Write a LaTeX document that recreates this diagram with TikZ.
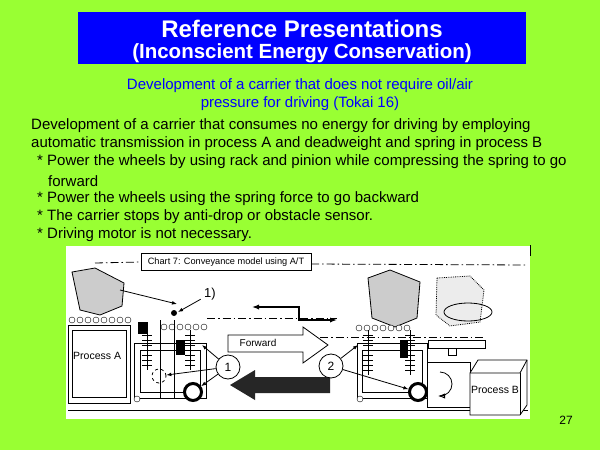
\documentclass[tikz,border=0pt]{standalone}
\usepackage{fontspec}
\setmainfont{Liberation Sans}
\usetikzlibrary{arrows.meta, shapes.geometric}
\definecolor{lime}{RGB}{153,255,51}
\definecolor{titleblue}{RGB}{0,0,255}
\tikzstyle{bodytext} = [anchor=west, inner sep=0pt, font=\fontsize{15}{17}\selectfont]
\tikzstyle{roller} = [circle, draw=black, fill=white, inner sep=0pt, minimum size=6pt]
\tikzstyle{wheel} = [circle, draw=black, line width=3pt, fill=white, inner sep=0pt, minimum size=17pt]
\tikzstyle{marker} = [circle, draw=black, thick, fill=white, inner sep=0pt, minimum size=24pt, font=\fontsize{12}{13}\selectfont]
\tikzstyle{pointer} = [thick, -{Latex[length=5pt]}]
\tikzstyle{dashdot} = [thick, dash pattern=on 8pt off 3pt on 1.5pt off 3pt]
\tikzstyle{load} = [draw=black, fill=gray!40, thick]
\begin{document}
\begin{tikzpicture}[x=1pt, y=-1pt]
  \fill[lime] (0,0) rectangle (600,450);
  \useasboundingbox (0,0) rectangle (600,450);

  % Title
  \node (title) [fill=titleblue, minimum width=448pt, minimum height=52pt] at (302,38) {};
  \node (title1) [inner sep=0pt, text=white, font=\bfseries\fontsize{24}{26}\selectfont] at (302,29) {Reference Presentations};
  \node (title2) [inner sep=0pt, text=white, font=\bfseries\fontsize{20.5}{22}\selectfont] at (302,53) {(Inconscient Energy Conservation)};

  % Subtitle
  \node (sub) [align=center, text=titleblue, font=\fontsize{15}{18}\selectfont] at (300,95)
    {Development of a carrier that does not require oil/air\\pressure for driving (Tokai 16)};

  % Body
  \node (l1) [bodytext] at (31,126) {Development of a carrier that consumes no energy for driving by employing};
  \node (l2) [bodytext] at (31,144) {automatic transmission in process A and deadweight and spring in process B};
  \node (l3) [bodytext] at (37,162) {* Power the wheels by using rack and pinion while compressing the spring to go};
  \node (l4) [bodytext] at (48,181) {forward};
  \node (l5) [bodytext] at (37,199) {* Power the wheels using the spring force to go backward};
  \node (l6) [bodytext] at (37,217) {* The carrier stops by anti-drop or obstacle sensor.};
  \node (l7) [bodytext] at (37,235) {* Driving motor is not necessary.};

  % Picture area
  \fill[white] (66,246) rectangle (530,419);
  \draw[thick] (530,245) -- (530,256);
  \draw[thick] (68,410) -- (528,410);

  % Caption and dash-dot lines
  \node (chart) [draw=black, fill=white, minimum width=170pt, minimum height=17pt, font=\fontsize{9.2}{10}\selectfont] at (226,262) {Chart 7: Conveyance model using A/T};
  \draw[dashdot] (95,263) -- (chart.west);
  \draw[dashdot] (chart.east) ++(0,2) -- (527,265);
  \draw[dashdot] (207,318) -- (337,318);
  \draw[dashdot] (320,337) -- (483,337);

  % Process A table
  \draw[thick] (68,325) rectangle (130,403);
  \draw (72,330) rectangle (126,397);
  \foreach \x in {72,80,...,128} \node[roller] at (\x,320) {};
  \node (procA) [anchor=west, inner sep=0pt, font=\fontsize{10.5}{12}\selectfont] at (73,356) {Process A};

  % Loads
  \draw[load] (72,272) -- (95,268) -- (124,283) -- (122,306) -- (100,315) -- (80,310) -- cycle;
  \draw[load] (368,278) -- (390,270) -- (420,282) -- (417,318) -- (395,327) -- (372,318) -- cycle;
  \draw[load, fill=gray!15, densely dotted] (437,278) -- (470,276) -- (484,290) -- (480,322) -- (450,326) -- (436,315) -- cycle;
  \draw[thick] (468,312) ellipse (24pt and 9pt);

  % Left carrier
  \draw[thick] (134,343) rectangle (206,398);
  \draw (140,350) rectangle (200,392);
  \foreach \x in {164,172,...,205} \node[roller] at (\x,327) {};
  \draw[thick] (160,320) -- (160,398);
  \draw[thick] (174,320) -- (174,398);
  \foreach \x in {147,190} {
    \draw[thick] (\x,330) -- (\x,370);
    \foreach \y in {335,340,...,365} \draw (\x-5,\y) -- (\x+5,\y);
  }
  \fill (138,322) rectangle (148,334);
  \fill (174,313) circle (3pt);
  \fill (176,340) rectangle (185,355);
  \node (gear) [circle, draw=black, thick, dashed, inner sep=0pt, minimum size=14pt] at (159,376) {};
  \node (lwheel) [wheel] at (193,392) {};
  \node[roller] at (137,399) {};
  \node (m1) [marker] at (228,367) {1};
  \node (tag1) [font=\fontsize{13}{14}\selectfont] at (210,294) {1)};
  \draw[pointer] (tag1) -- (178,312);
  \draw[pointer] (120,290) -- (177,304);
  \draw[pointer] (m1) -- (202,345);
  \draw[pointer] (m1) -- (gear);
  \draw[pointer] (m1) -- (lwheel);

  % Arrows
  \draw[thick, fill=white] (228,335) -- (303,335) -- (303,327) -- (328,345) -- (303,363) -- (303,352) -- (228,352) -- cycle;
  \node (fwd) [font=\fontsize{10}{11}\selectfont] at (258,343) {Forward};
  \fill[black!85] (230,385) -- (255,370) -- (255,377) -- (330,377) -- (330,393) -- (255,393) -- (255,400) -- cycle;
  \draw[line width=1.6pt, {Latex[length=7pt]}-{Latex[length=7pt]}] (252,307) -- (299,307) -- (299,320) -- (337,320);

  % Right carrier
  \draw[thick] (357,343) rectangle (427,398);
  \draw (362,350) rectangle (422,392);
  \foreach \x in {359,367,...,410} \node[roller] at (\x,328) {};
  \foreach \x in {368,410} {
    \draw[thick] (\x,330) -- (\x,375);
    \foreach \y in {335,340,...,370} \draw (\x-5,\y) -- (\x+5,\y);
  }
  \fill (400,340) rectangle (408,358);
  \draw[thick] (428,340) rectangle (485,348);
  \draw[thick] (448,348) rectangle (456,355);
  \node (rwheel) [wheel] at (418,392) {};
  \node[roller] at (360,399) {};
  \node (m2) [marker] at (331,366) {2};
  \draw[pointer] (m2) -- (358,345);
  \draw[pointer] (m2) -- (rwheel);

  % Process B
  \draw[thick] (427,362) rectangle (470,407);
  \draw[thick, -{Latex[open, length=7pt]}] (440,372) arc[start angle=90, end angle=-90, radius=12pt] -- (438,396);
  \draw[thick, fill=white] (470,373) -- (478,360) -- (527,360) -- (527,405) -- (520,415) -- (470,415) -- cycle;
  \draw[thick] (470,373) -- (520,373) -- (527,360);
  \draw[thick] (520,373) -- (520,415);
  \node (procB) [font=\fontsize{10.5}{12}\selectfont] at (495,390) {Process B};

  % Page number
  \node (page) [font=\fontsize{12}{13}\selectfont] at (566,420) {27};
\end{tikzpicture}
\end{document}
